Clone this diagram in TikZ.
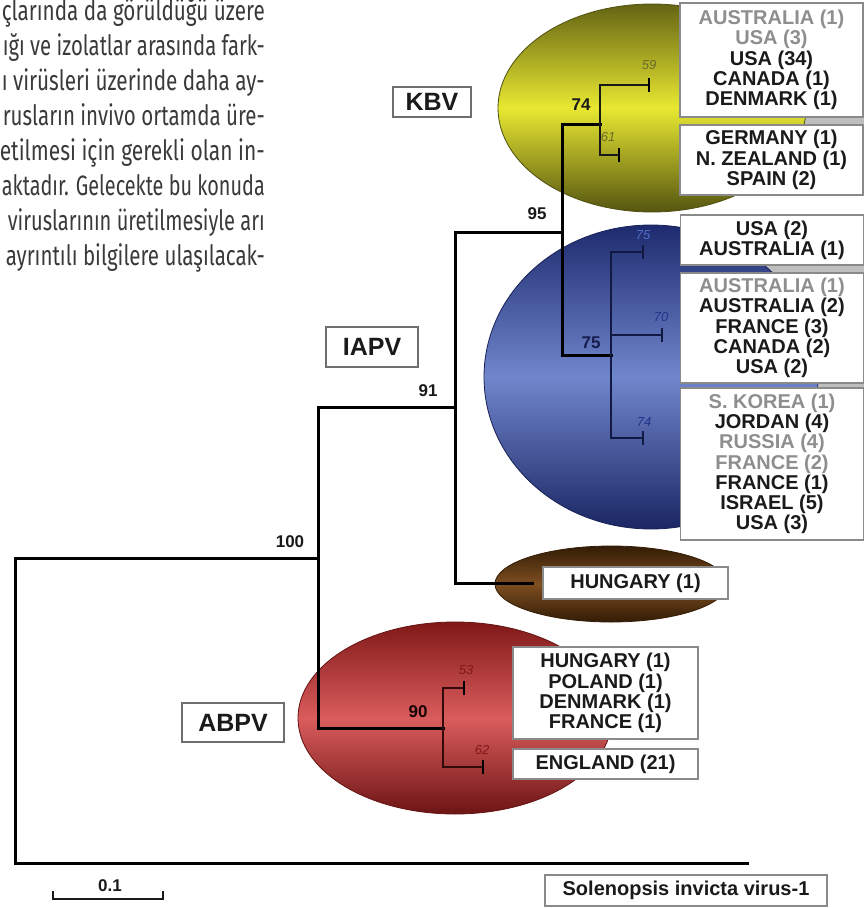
\documentclass[tikz,border=0pt]{standalone}
\usepackage{fontspec}
\setmainfont{Liberation Sans}
\newfontfamily\parafont{Fira Sans}
\usepackage{graphicx}
\definecolor{ink}{HTML}{1A1A1A}
\definecolor{gtx}{HTML}{8E8E8E}
\definecolor{paratx}{HTML}{3A3A3A}
\definecolor{boxline}{HTML}{8A8A8A}
\definecolor{lblline}{HTML}{6E6E6E}
\definecolor{olivedk}{RGB}{100,100,20}
\definecolor{yellowlt}{RGB}{232,232,50}
\definecolor{navydk}{RGB}{30,42,110}
\definecolor{bluelt}{RGB}{112,134,204}
\definecolor{bluelbl}{RGB}{80,110,200}
\definecolor{bluelbldk}{RGB}{32,52,140}
\definecolor{browndk}{RGB}{52,28,6}
\definecolor{brownlt}{RGB}{125,78,32}
\definecolor{reddk}{RGB}{128,24,24}
\definecolor{redlt}{RGB}{218,92,92}
\definecolor{stripgray}{RGB}{190,190,190}
\newcommand\cfont{\bfseries\fontsize{20}{20.2}\selectfont}
\newcommand\greytxt[1]{{\color{gtx}#1}}
\newcommand\pline[2]{\resizebox{#1pt}{\height}{\parafont\fontsize{28}{28}\selectfont #2}}
\begin{document}
\begin{tikzpicture}[x=1pt,y=-1pt,
  tree/.style={line width=3pt, line cap=rect, line join=miter, draw=black},
  inner/.style={line width=2.4pt, line cap=rect, line join=miter, draw=black!90},
  tickbar/.style={line width=2.6pt, draw=black},
  cbox/.style={draw=boxline, line width=1.3pt, fill=white, inner sep=0pt, minimum width=183pt, align=center, font=\cfont, text=ink},
  lbox/.style={draw=lblline, line width=1.6pt, fill=white, inner sep=0pt, font=\bfseries\fontsize{25}{25}\selectfont, text=ink},
  bnum/.style={font=\bfseries\fontsize{17}{17}\selectfont, text=ink, inner sep=0pt},
  inum/.style={font=\itshape\fontsize{13}{13}\selectfont, inner sep=0pt},
  paranode/.style={inner sep=0pt, text=paratx, anchor=base east}
]
\useasboundingbox (0,0) rectangle (867,908);
\clip (0,0) rectangle (867,908);
\fill[white] (0,0) rectangle (867,908);

% paragraph
\node[paranode] (p1) at (265,20)  {\pline{263}{çlarında da görüldüğü üzere}};
\node[paranode] (p2) at (265,55)  {\pline{262}{ığı ve izolatlar arasında fark-}};
\node[paranode] (p3) at (265,90)  {\pline{263}{ı virüsleri üzerinde daha ay-}};
\node[paranode] (p4) at (265,125) {\pline{262}{rusların invivo ortamda üre-}};
\node[paranode] (p5) at (265,160) {\pline{265}{etilmesi için gerekli olan in-}};
\node[paranode] (p6) at (265,195) {\pline{263}{aktadır. Gelecekte bu konuda}};
\node[paranode] (p7) at (265,230) {\pline{257}{viruslarının üretilmesiyle arı}};
\node[paranode] (p8) at (265,265) {\pline{259}{ayrıntılı bilgilere ulaşılacak-}};

% gray strips between boxes
\fill[stripgray] (680,117) rectangle (864,125);
\fill[stripgray] (681,265) rectangle (864,273);
\fill[stripgray] (681,383) rectangle (864,388);

% clade ellipses
\shade[top color=olivedk, bottom color=olivedk!85!black, middle color=yellowlt, draw=olivedk!80!black, line width=0.8pt]
  (652,108) ellipse [x radius=154pt, y radius=104pt];
\shade[top color=navydk, bottom color=navydk!90!black, middle color=bluelt, draw=navydk!80!black, line width=0.8pt]
  (651,377) ellipse [x radius=167pt, y radius=152pt];
\shade[top color=browndk, bottom color=browndk, middle color=brownlt, draw=browndk, line width=0.8pt]
  (611,584) ellipse [x radius=116pt, y radius=38pt];
\shade[top color=reddk, bottom color=reddk!85!black, middle color=redlt, draw=reddk!80!black, line width=0.8pt]
  (455,718) ellipse [x radius=157pt, y radius=96pt];

% tree coordinates
\coordinate (rootc) at (15,558);
\coordinate (rootb) at (15,863);
\coordinate (sol) at (747,863);
\coordinate (n100) at (318,558);
\coordinate (n91) at (455,407);
\coordinate (n95) at (562,232);
\coordinate (n74) at (600,124);
\coordinate (n75) at (611,355);
\coordinate (n90) at (443,728);
\coordinate (t59) at (649,85);
\coordinate (t61) at (619,155);
\coordinate (t75) at (643,252);
\coordinate (t70) at (662,335);
\coordinate (t74) at (643,438);
\coordinate (thu) at (532,583);
\coordinate (t53) at (464,688);
\coordinate (t62) at (483,767);

% tree branches
\draw[tree] (sol) -- (rootb) -- (rootc) -- (n100);
\draw[tree] (n91) -| (n100) |- (n90);
\draw[tree] (n95) -| (n91) |- (thu);
\draw[tree] (n74) -| (n95) |- (n75);
\draw[inner] (t59) -| (n74) |- (t61);
\draw[inner, draw=navydk!60!black] (t75) -| (n75) |- (t74);
\draw[inner, draw=navydk!60!black] (n75 |- t70) -- (t70);
\draw[inner, draw=reddk!40!black] (t53) -| (n90) |- (t62);

% tip bars
\foreach \t in {t59,t61,t53,t62}{
  \draw[tickbar] ([yshift=7pt]\t) -- ([yshift=-7pt]\t);
}
\foreach \t in {t75,t70,t74}{
  \draw[tickbar, draw=navydk!60!black] ([yshift=7pt]\t) -- ([yshift=-7pt]\t);
}

% bootstrap values
\node[bnum] (b100) at (290,542) {100};
\node[bnum] (b91) at (428,391) {91};
\node[bnum] (b95) at (537,214) {95};
\node[bnum] (b74) at (581,105) {74};
\node[bnum, text=navydk!70!black] (b75) at (591,343) {75};
\node[bnum, text=black!80!reddk] (b90) at (418,712) {90};
\node[inum, text=olivedk!80!gray] (i59) at (649,65) {59};
\node[inum, text=olivedk!80!gray] (i61) at (608,137) {61};
\node[inum, text=bluelbl] (i75) at (643,235) {75};
\node[inum, text=bluelbldk] (i70) at (661,317) {70};
\node[inum, text=bluelbldk] (i74) at (644,422) {74};
\node[inum, text=reddk] (i53) at (466,670) {53};
\node[inum, text=reddk] (i62) at (482,750) {62};

% country boxes
\node[cbox, minimum height=114pt] (k1) at (771.5,60)
  {\greytxt{AUSTRALIA (1)}\\\greytxt{USA (3)}\\USA (34)\\CANADA (1)\\DENMARK (1)};
\node[cbox, minimum height=70pt] (k2) at (771.5,160)
  {GERMANY (1)\\N. ZEALAND (1)\\SPAIN (2)};
\node[cbox, minimum height=50pt] (bl1) at (772,240)
  {USA (2)\\AUSTRALIA (1)};
\node[cbox, minimum height=110pt] (bl2) at (772,328)
  {\greytxt{AUSTRALIA (1)}\\AUSTRALIA (2)\\FRANCE (3)\\CANADA (2)\\USA (2)};
\node[cbox, minimum height=152pt] (bl3) at (772,464)
  {\greytxt{S. KOREA (1)}\\JORDAN (4)\\\greytxt{RUSSIA (4)}\\\greytxt{FRANCE (2)}\\FRANCE (1)\\ISRAEL (5)\\USA (3)};
\node[cbox, minimum width=185pt, minimum height=32pt] (hu) at (635.5,583) {HUNGARY (1)};
\node[cbox, minimum width=185pt, minimum height=92pt] (ab1) at (605.5,693)
  {HUNGARY (1)\\POLAND (1)\\DENMARK (1)\\FRANCE (1)};
\node[cbox, minimum width=185pt, minimum height=30pt] (ab2) at (605.5,764) {ENGLAND (21)};
\node[cbox, minimum width=282pt, minimum height=31pt] (so) at (686,890.5) {Solenopsis invicta virus-1};

% clade labels
\node[lbox, minimum width=78pt, minimum height=30pt] (kbv) at (432,102) {KBV};
\node[lbox, minimum width=92pt, minimum height=40pt] (iapv) at (372,347) {IAPV};
\node[lbox, minimum width=102pt, minimum height=39pt] (abpv) at (233,722.5) {ABPV};

% scale bar
\coordinate (sbl) at (53,899);
\coordinate (sbr) at (163,899);
\coordinate (sblt) at (53,891);
\coordinate (sbrt) at (163,891);
\draw[line width=2pt, draw=ink] (sblt) -- (sbl) -- (sbr) -- (sbrt);
\node[font=\bfseries\fontsize{17}{17}\selectfont, text=ink, inner sep=0pt] (sbt) at (110,886) {0.1};
\end{tikzpicture}
\end{document}
